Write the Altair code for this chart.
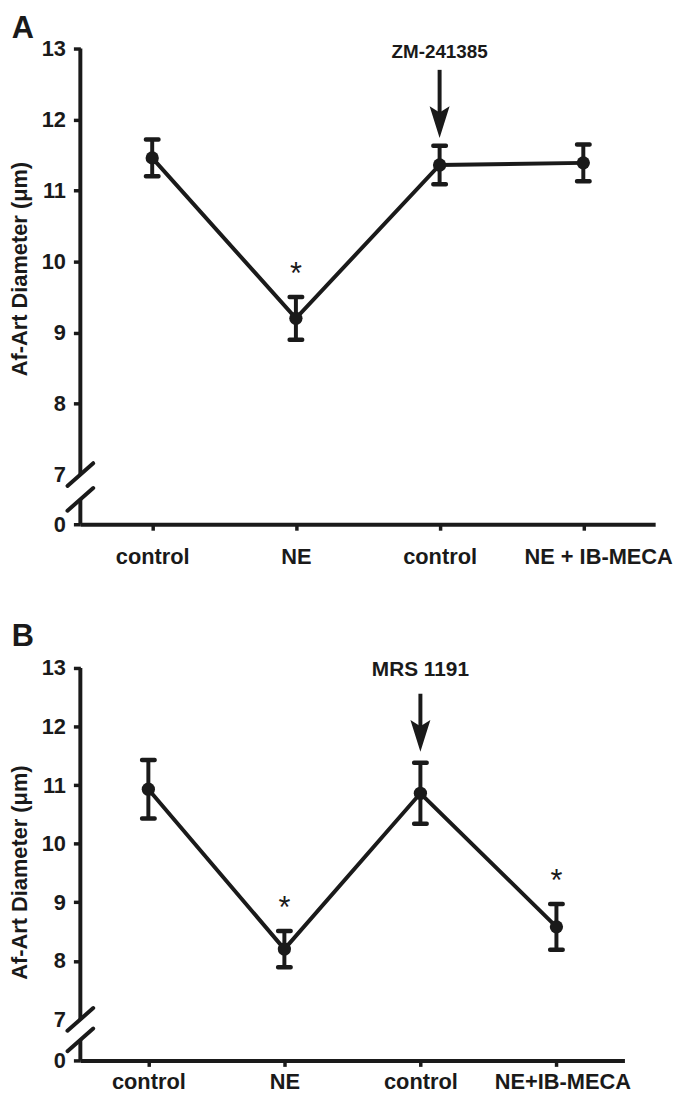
import json
import altair as alt
import pandas as pd

# ---- values ----
conditions_a = ["control", "NE", "control", "NE + IB-MECA"]
diameter_a = [11.46, 9.20, 11.36, 11.39]
sem_a = [0.26, 0.30, 0.27, 0.26]
significant_a = [False, True, False, False]
drug_a = "ZM-241385"

conditions_b = ["control", "NE", "control", "NE+IB-MECA"]
diameter_b = [10.93, 8.20, 10.86, 8.58]
sem_b = [0.50, 0.31, 0.52, 0.39]
significant_b = [False, True, False, True]
drug_b = "MRS 1191"

y_tick_values = [7, 8, 9, 10, 11, 12, 13]
y_top = 13
axis_zero_at = 6.3   # the broken axis draws "0" here
break_upper = 7.0
break_lower = 6.65

INK = "#1a1a1a"
FONT = "Liberation Sans"
TITLE = "Af-Art Diameter (μm)"


def panel(letter, conds, means, sems, sig, drug, W, H, title_y, drug_y,
          arrow_top, arrow_tip, last_shift, drug_size, x_label_pad, letter_above):
    n = len(conds)
    px_x = W / n
    px_y = H / (y_top - axis_zero_at)
    df = pd.DataFrame({
        "i": list(range(n)),
        "mean": means,
        "lo": [m - s for m, s in zip(means, sems)],
        "hi": [m + s for m, s in zip(means, sems)],
        "sig": sig,
    })
    xs = alt.Scale(domain=[-0.5, n - 0.5], nice=False, zero=False)
    ys = alt.Scale(domain=[axis_zero_at, y_top], nice=False, zero=False)
    x_axis = alt.Axis(
        values=list(range(n)),
        labelExpr=f"{json.dumps(conds)}[datum.value]",
        title=None, grid=False,
        domain=True, domainColor=INK, domainWidth=4,
        tickColor=INK, tickWidth=3.5, tickSize=6,
        labelFont=FONT, labelFontWeight="bold", labelFontSize=22,
        labelColor=INK, labelPadding=x_label_pad, labelFlush=False,
        labelOverlap=False,
        labelOffset={"condition": {"test": f"datum.value == {n - 1}",
                                   "value": last_shift}, "value": 0},
    )
    y_axis = alt.Axis(
        values=[axis_zero_at] + y_tick_values,
        labelExpr=f"datum.value < {y_tick_values[0]} ? '0' : format(datum.value, 'd')",
        title=TITLE, grid=False, domain=False,
        tickColor=INK, tickWidth=3.5, tickSize=7,
        tickOpacity={"condition": {"test": f"datum.value == {y_tick_values[0]}",
                                   "value": 0}, "value": 1},
        labelFont=FONT, labelFontWeight="bold", labelFontSize=22,
        labelColor=INK, labelPadding=8,
        titleFont=FONT, titleFontWeight="bold", titleFontSize=22,
        titleColor=INK, titlePadding=10, titleY=title_y,
    )

    def X(f):
        return alt.X(f"{f}:Q", scale=xs, axis=x_axis)

    def Y(f):
        return alt.Y(f"{f}:Q", scale=ys, axis=y_axis)

    base = alt.Chart(df)
    line = base.mark_line(color=INK, strokeWidth=4).encode(x=X("i"), y=Y("mean"))
    bars = base.mark_rule(color=INK, strokeWidth=4).encode(
        x=X("i"), y=Y("lo"), y2="hi:Q")
    caps_hi = base.mark_tick(orient="horizontal", size=17, thickness=4.5,
                             color=INK, opacity=1, cornerRadius=2).encode(
        x=X("i"), y=Y("hi"))
    caps_lo = base.mark_tick(orient="horizontal", size=17, thickness=4.5,
                             color=INK, opacity=1, cornerRadius=2).encode(
        x=X("i"), y=Y("lo"))
    pts = base.mark_circle(size=180, color=INK, opacity=1).encode(
        x=X("i"), y=Y("mean"))
    stars = base.transform_filter("datum.sig").mark_text(
        text="*", font=FONT, fontSize=31, color=INK, baseline="alphabetic",
        dy=-13).encode(x=X("i"), y=Y("hi"))

    # broken y axis line
    vline_df = pd.DataFrame({"x": [-0.5, -0.5],
                             "y": [break_upper, axis_zero_at],
                             "y2": [y_top, break_lower]})
    vline = alt.Chart(vline_df).mark_rule(color=INK, strokeWidth=4).encode(
        x=X("x"), y=Y("y"), y2="y2:Q")
    slash_df = pd.DataFrame({"x": [-0.5, -0.5], "y": [break_upper, break_lower]})
    slashes = alt.Chart(slash_df).mark_point(
        shape="M-1,0.88L1,-0.88", size=676, strokeWidth=4, color=INK,
        filled=False, opacity=1, strokeCap="round").encode(x=X("x"), y=Y("y"))

    # arrow + drug label over the third condition
    s = 18.3
    head_c = arrow_tip + s / px_y
    shaft_df = pd.DataFrame({"x": [2], "y": [head_c], "y2": [arrow_top]})
    shaft = alt.Chart(shaft_df).mark_rule(color=INK, strokeWidth=4).encode(
        x=X("x"), y=Y("y"), y2="y2:Q")
    head_df = pd.DataFrame({"x": [2], "y": [head_c]})
    head = alt.Chart(head_df).mark_point(
        shape="M0,1L-0.55,-0.75L0,-0.4L0.55,-0.75Z", size=(2 * s) ** 2,
        filled=True, color=INK, opacity=1, strokeWidth=0).encode(
        x=X("x"), y=Y("y"))
    drug_df = pd.DataFrame({"x": [2], "y": [drug_y], "t": [drug]})
    drug_txt = alt.Chart(drug_df).mark_text(
        font=FONT, fontWeight="bold", fontSize=drug_size, color=INK,
        baseline="middle", align="center").encode(
        x=X("x"), y=Y("y"), text="t:N")

    letter_df = pd.DataFrame({"x": [-0.5 - 58 / px_x],
                              "y": [y_top + letter_above / px_y],
                              "t": [letter]})
    letter_txt = alt.Chart(letter_df).mark_text(
        font=FONT, fontWeight="bold", fontSize=31, color=INK,
        baseline="middle", align="center").encode(
        x=X("x"), y=Y("y"), text="t:N")

    return alt.layer(line, bars, caps_hi, caps_lo, pts, stars, vline, slashes,
                     shaft, head, drug_txt, letter_txt).properties(width=W, height=H)


panel_a = panel("A", conditions_a, diameter_a, sem_a, significant_a, drug_a,
                W=580, H=480, title_y=222, drug_y=12.95,
                arrow_top=12.70, arrow_tip=11.74, last_shift=15, drug_size=19,
                x_label_pad=17, letter_above=20)
panel_b = panel("B", conditions_b, diameter_b, sem_b, significant_b, drug_b,
                W=549, H=396, title_y=206, drug_y=12.97,
                arrow_top=12.56, arrow_tip=11.57, last_shift=6, drug_size=21,
                x_label_pad=5, letter_above=31)

chart = alt.vconcat(panel_a, panel_b, spacing=54).properties(
    padding={"left": 0, "top": -1, "right": 0, "bottom": 0},
    background="white"
).configure_view(stroke=None)

chart.save("out.html", embed_options={"renderer": "svg", "actions": False})
